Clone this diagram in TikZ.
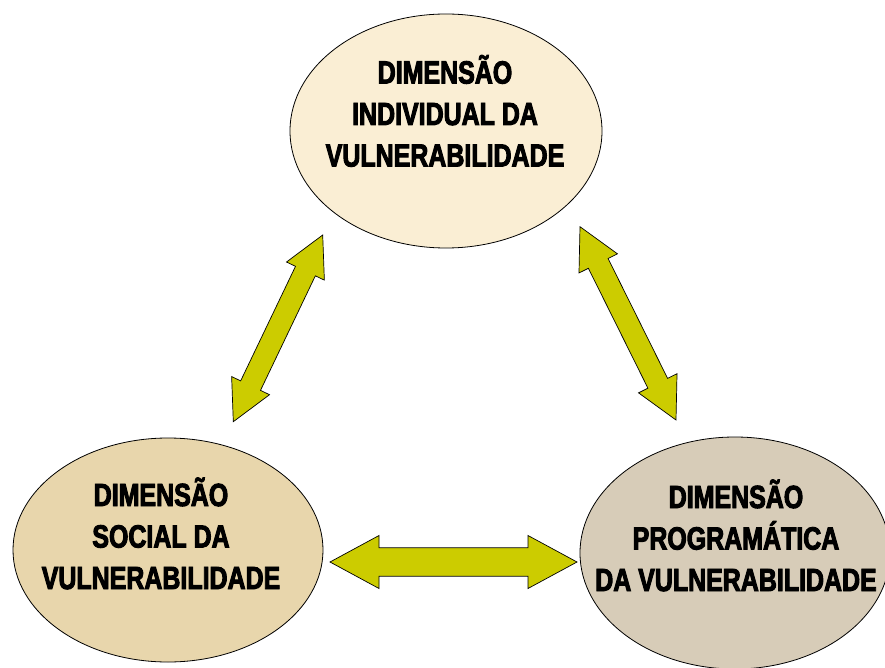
\documentclass[tikz,border=0pt]{standalone}
\usepackage{fontspec}
\usetikzlibrary{calc,shapes.geometric}
\newfontfamily\dimfont{Liberation Sans}[FakeStretch=0.78, FakeBold=3]
\definecolor{arrfill}{RGB}{204,204,0}
\definecolor{indfill}{RGB}{250,238,212}
\definecolor{socfill}{RGB}{232,214,172}
\definecolor{progfill}{RGB}{215,204,184}
% #1 start, #2 end, #3 head length, #4 head half width, #5 shaft half width
\newcommand\blockarrow[5]{%
  \path ($(#1)!#3!(#2)$) coordinate (ba1) ($(#2)!#3!(#1)$) coordinate (ba2);
  \draw[blockarr] (#1) -- ($(ba1)!#4!90:(#2)$) -- ($(ba1)!#5!90:(#2)$)
    -- ($(ba2)!#5!-90:(#1)$) -- ($(ba2)!#4!-90:(#1)$) -- (#2)
    -- ($(ba2)!#4!90:(#1)$) -- ($(ba2)!#5!90:(#1)$)
    -- ($(ba1)!#5!-90:(#2)$) -- ($(ba1)!#4!-90:(#2)$) -- cycle;}
\tikzset{
  bubble/.style={ellipse, draw=black, line width=0.8pt, inner sep=0pt},
  lbl/.style={anchor=base, inner sep=0pt, text=black,
    font=\dimfont\bfseries\fontsize{32}{41.5}\selectfont},
  blockarr/.style={draw=black, line width=0.7pt, fill=arrfill, line join=miter}
}
\begin{document}
\begin{tikzpicture}[x=1pt, y=-1pt]
\useasboundingbox (0,0) rectangle (885,668);
% ellipses
\node[bubble, fill=indfill, minimum width=312pt, minimum height=234pt] (ind) at (446,131) {};
\node[bubble, fill=socfill, minimum width=310pt, minimum height=224pt] (soc) at (168,550) {};
\node[bubble, fill=progfill, minimum width=310pt, minimum height=232pt] (prog) at (735,553) {};
% labels
\node[lbl] (indt) at ($(ind.center)+(-1,-47.5)$)
  {\begin{tabular}[t]{@{}c@{}}DIMENSÃO\\INDIVIDUAL DA\\VULNERABILIDADE\end{tabular}};
\node[lbl] (soct) at ($(soc.center)+(-7,-44)$)
  {\begin{tabular}[t]{@{}c@{}}DIMENSÃO\\SOCIAL DA\\VULNERABILIDADE\end{tabular}};
\node[lbl] (progt) at ($(prog.center)+(1,-45)$)
  {\begin{tabular}[t]{@{}c@{}}DIMENSÃO\\PROGRAMÁTICA\\DA VULNERABILIDADE\end{tabular}};
% arrow end points
\coordinate (h1) at (330,562);
\coordinate (h2) at (577,562);
\coordinate (l1) at (322.7,235);
\coordinate (l2) at (233.3,421.7);
\coordinate (r1) at (580,226.7);
\coordinate (r2) at (676,420);
% block arrows
\blockarrow{h1}{h2}{49pt}{26.5pt}{14.2pt}
\blockarrow{l1}{l2}{40pt}{21pt}{11pt}
\blockarrow{r1}{r2}{41pt}{21.5pt}{11pt}
\end{tikzpicture}
\end{document}
